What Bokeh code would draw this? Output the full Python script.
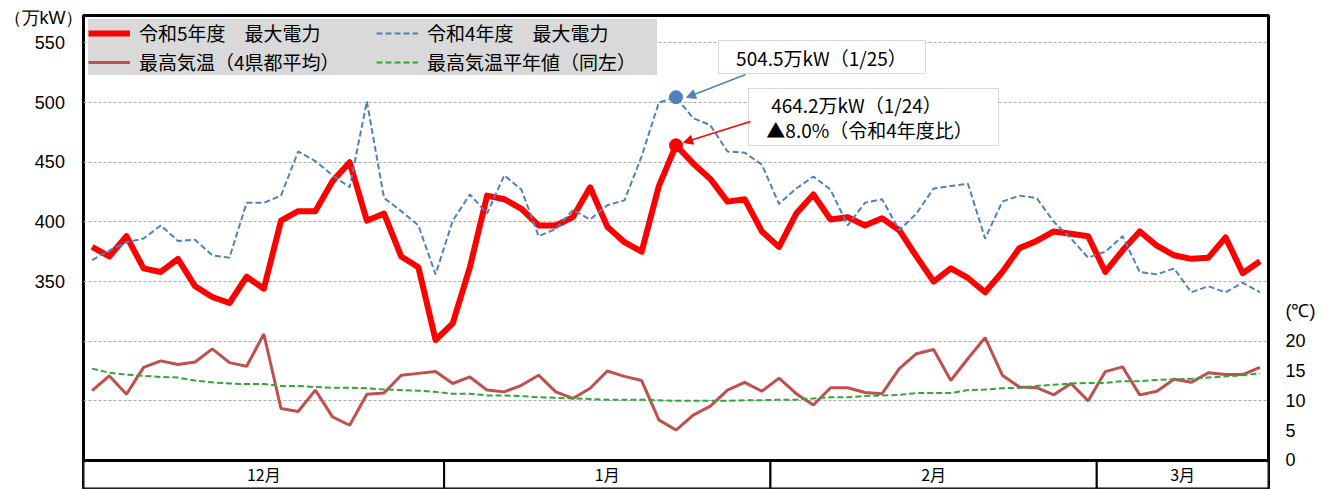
from bokeh.plotting import figure
from bokeh.models import (Range1d, LinearAxis, FixedTicker, Legend, LegendItem, Label,
                          Arrow, NormalHead, BoxAnnotation, Span)
from bokeh.core.properties import value
from bokeh.embed import file_html
from bokeh.resources import INLINE
import numpy as np

# ---------------- data ----------------
month_labels = ["12月", "1月", "2月", "3月"]
month_days = [21, 19, 19, 10]          # business days plotted per month

r5_power = [379, 371, 388, 361, 358, 369, 346, 337, 332, 354, 344, 401, 409, 409,
            434, 450, 401, 407, 371, 362, 301, 315, 362, 422, 419, 411, 397, 397,
            404, 429, 396, 383, 375, 430, 464.2, 449, 436, 417, 419, 392, 379, 407,
            423, 402, 404, 397, 403, 393, 371, 350, 361, 353, 341, 358, 378, 384,
            392, 390, 388, 358, 376, 392, 380, 372, 369, 370, 387, 357, 367]

r4_power = [368, 376, 383, 386, 397, 384, 385, 372, 370, 416, 416, 422, 459, 451,
            439, 429, 501, 420, 409, 397, 356, 401, 423, 407, 439, 427, 388, 394,
            410, 402, 414, 418, 455, 500, 504.5, 487, 481, 459, 458, 448, 415, 428,
            438, 427, 397, 416, 419, 393, 407, 428, 430, 432, 386, 417, 422, 420,
            400, 386, 370, 375, 388, 358, 356, 361, 341, 346, 341, 349, 341]

temp_max = [11.7, 14.2, 11.1, 15.6, 16.7, 16.1, 16.5, 18.7, 16.4, 15.8, 21.2, 8.7, 8.2, 11.8,
            7.3, 5.9, 11.1, 11.3, 14.3, 14.6, 14.9, 12.9, 14.0, 11.8, 11.5, 12.6, 14.3, 11.5,
            10.4, 12.1, 15.0, 14.1, 13.4, 6.8, 5.1, 7.6, 9.1, 11.8, 13.1, 11.6, 13.8, 11.2,
            9.3, 12.2, 12.2, 11.4, 11.2, 15.4, 17.9, 18.6, 13.4, 17.1, 20.6, 14.3, 12.3, 12.2,
            11.0, 12.9, 10.0, 14.9, 15.7, 11.0, 11.6, 13.6, 13.1, 14.7, 14.4, 14.4, 15.6]

temp_normal = [15.4, 14.7, 14.4, 14.2, 14.0, 13.9, 13.4, 13.1, 12.9, 12.8, 12.8, 12.5, 12.5, 12.3,
               12.2, 12.2, 12.1, 11.9, 11.8, 11.7, 11.5, 11.2, 11.2, 10.9, 10.9, 10.8, 10.6, 10.5,
               10.4, 10.3, 10.2, 10.2, 10.2, 10.1, 10.0, 10.0, 10.0, 10.0, 10.1, 10.1, 10.2, 10.2,
               10.4, 10.6, 10.6, 10.8, 10.9, 11.0, 11.3, 11.3, 11.3, 11.8, 11.9, 12.1, 12.2, 12.5,
               12.7, 12.9, 13.0, 13.0, 13.3, 13.3, 13.5, 13.6, 13.7, 13.9, 14.1, 14.3, 14.6]

power_ticks = [350, 400, 450, 500, 550]
grid_ticks = [250, 300, 350, 400, 450, 500, 550]
temp_ticks = [0, 5, 10, 15, 20]
power_unit = "（万kW）"
temp_unit = "(℃)"

peak_idx = 34
r5_label = "464.2万kW（1/24）"
r5_ratio = "▲8.0%（令和4年度比）"
r4_label = "504.5万kW（1/25）"

# ---------------- layout ----------------
n = len(r5_power)
x = np.arange(n)
Y_TOP = 573.0
Y_BASE = 200.0
Y_LO = 176.5
JP = "Noto Sans CJK JP"
NUM = "Liberation Sans"
PAD = "\u00a0\u00a0\u00a0\u2009"

p = figure(width=1333, height=489, output_backend="svg", toolbar_location=None,
           x_range=Range1d(-0.5, n - 0.5), y_range=Range1d(Y_LO, Y_TOP),
           x_axis_location=None,
           min_border_left=83, min_border_right=65, min_border_top=15, min_border_bottom=1)
p.background_fill_color = "white"
p.border_fill_color = "white"
p.outline_line_color = "black"
p.outline_line_width = 3
p.xgrid.visible = False

p.extra_y_ranges = {"temp": Range1d((Y_LO - Y_BASE) / 5.0, (Y_TOP - Y_BASE) / 5.0)}

# left axis: numbers + unit label (unit placed as an extra tick near the top)
unit_pos = 571
la = p.left[0]
la.ticker = FixedTicker(ticks=power_ticks + [unit_pos])
overrides = {t: str(t) + PAD for t in power_ticks}
overrides[unit_pos] = power_unit
la.major_label_overrides = overrides
la.axis_line_color = None
la.major_tick_line_color = None
la.minor_tick_line_color = None
la.major_tick_out = 0
la.major_tick_in = 0
la.minor_tick_out = 0
la.major_label_text_font = NUM
la.major_label_text_font_size = "18px"
la.major_label_text_color = "black"
la.major_label_standoff = 0

ra = LinearAxis(y_range_name="temp", ticker=FixedTicker(ticks=temp_ticks + [25]),
                major_label_overrides={25: temp_unit})
ra.axis_line_color = None
ra.major_tick_line_color = None
ra.minor_tick_line_color = None
ra.major_tick_out = 0
ra.major_tick_in = 0
ra.minor_tick_out = 0
ra.major_label_text_font = NUM
ra.major_label_text_font_size = "18px"
ra.major_label_text_color = "black"
ra.major_label_standoff = 17
p.add_layout(ra, "right")

g = p.ygrid[0]
g.ticker = FixedTicker(ticks=grid_ticks)
g.grid_line_color = "#ababab"
g.grid_line_dash = "3 2"
g.grid_line_width = 1

# month strip
bounds = np.concatenate([[0], np.cumsum(month_days)]) - 0.5
p.quad(left=bounds[:-1], right=bounds[1:], bottom=Y_LO, top=Y_BASE,
       fill_color="white", line_color="black", line_width=2)
p.text(x=(bounds[:-1] + bounds[1:]) / 2, y=(Y_LO + Y_BASE) / 2, text=month_labels,
       text_align="center", text_baseline="middle", text_font=value(JP),
       text_font_size="16px", text_color="black")
p.add_layout(Span(location=Y_BASE, dimension="width", line_color="black", line_width=3))

# series
r_red = p.line(x, r5_power, line_color="#FF0000", line_width=6, line_join="round")
r_blue = p.line(x, r4_power, line_color="#4F81BD", line_width=2, line_dash="6 3")
r_temp = p.line(x, temp_max, line_color="#C0504D", line_width=3, y_range_name="temp")
r_norm = p.line(x, temp_normal, line_color="#2EA836", line_width=2, line_dash="6 3",
                y_range_name="temp")
p.scatter([peak_idx], [r5_power[peak_idx]], size=13, color="#FF0000")
p.scatter([peak_idx], [r4_power[peak_idx]], size=13, color="#4F81BD")

# legends (two columns)
def mk_legend(items, xloc, lw):
    return Legend(items=items, location=(xloc, 413), margin=0, padding=7, spacing=2,
                  glyph_width=42, glyph_height=26, label_height=26, label_width=lw,
                  label_standoff=9, background_fill_color="#D9D9D9", background_fill_alpha=1,
                  border_line_color=None, label_text_font=JP, label_text_font_size="19px",
                  label_text_color="black")

lg1 = mk_legend([LegendItem(label="令和5年度　最大電力", renderers=[r_red]),
                 LegendItem(label="最高気温（4県都平均）", renderers=[r_temp])], 5, 244)
lg2 = mk_legend([LegendItem(label="令和4年度　最大電力", renderers=[r_blue]),
                 LegendItem(label="最高気温平年値（同左）", renderers=[r_norm])], 293, 230)
p.add_layout(lg1, "center")
p.add_layout(lg2, "center")

# annotation boxes
p.add_layout(BoxAnnotation(left=36.47, right=48.53, top=552.0, bottom=524.4,
                           fill_color="white", fill_alpha=1, line_color="black",
                           line_dash="1 1", line_width=1))
p.add_layout(BoxAnnotation(left=38.22, right=52.78, top=511.8, bottom=464.0,
                           fill_color="white", fill_alpha=1, line_color="black",
                           line_dash="1 1", line_width=1))
for tx, ty, tt in [(42.47, 538.2, r4_label), (44.51, 498.4, r5_label), (45.27, 477.4, r5_ratio)]:
    p.add_layout(Label(x=tx, y=ty, text=tt, text_align="center", text_baseline="middle",
                       text_font=JP, text_font_size="19px", text_color="black"))

p.add_layout(Arrow(end=NormalHead(size=9, fill_color="#4F81BD", line_color="#4F81BD"),
                   x_start=38.05, y_start=523.5, x_end=34.61, y_end=r4_power[peak_idx] - 0.2,
                   line_color="#4F81BD", line_width=1.5))
p.add_layout(Arrow(end=NormalHead(size=9, fill_color="#FF0000", line_color="#FF0000"),
                   x_start=38.34, y_start=484.1, x_end=34.44, y_end=r5_power[peak_idx] + 2.3,
                   line_color="#FF0000", line_width=1.5))

open("out.html", "w").write(file_html(p, INLINE))
